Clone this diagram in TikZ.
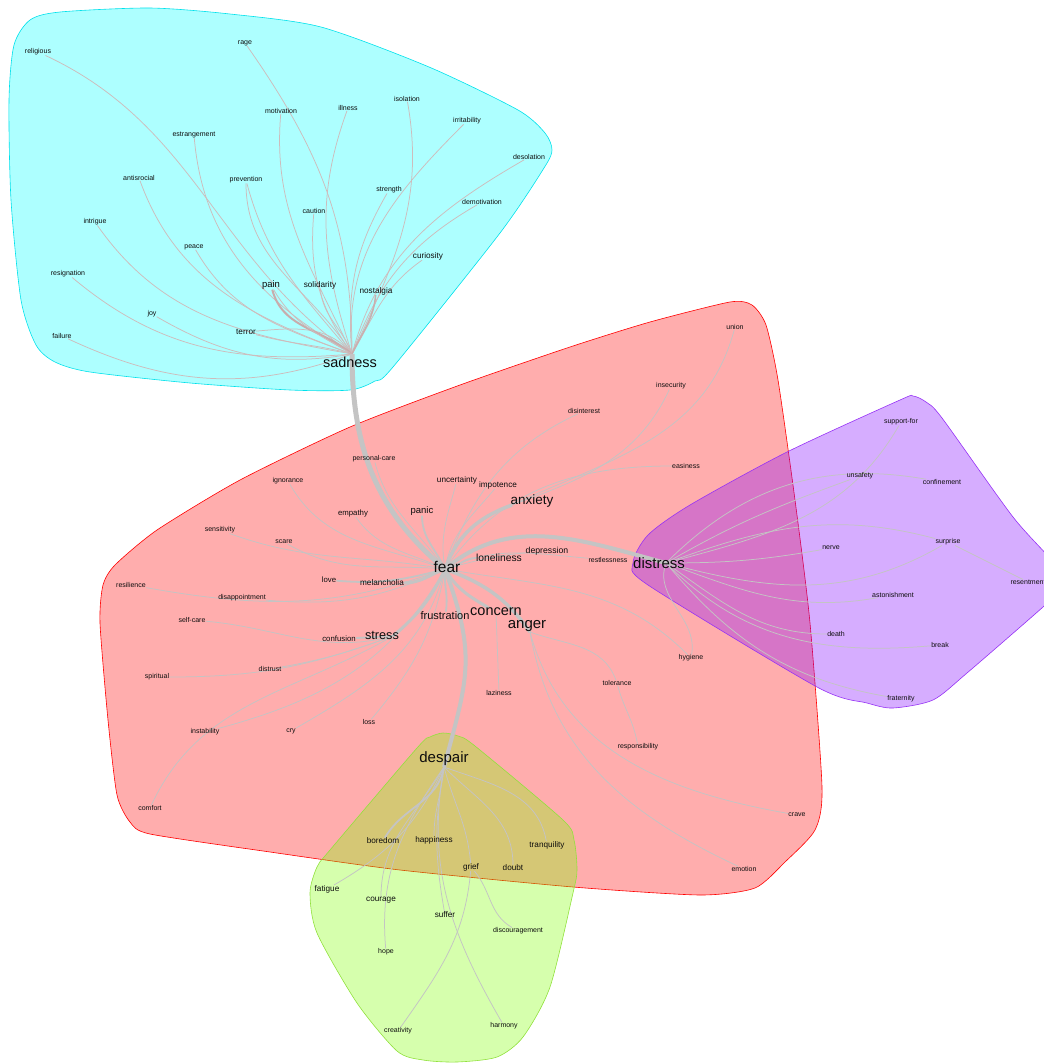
\documentclass[tikz,border=0pt]{standalone}
\usepackage{fontspec}
\setmainfont{Liberation Sans}
\pgfdeclarelayer{hulls}
\pgfdeclarelayer{edges}
\pgfsetlayers{hulls,edges,main}
\definecolor{edgegray}{RGB}{196,196,196}
\definecolor{edgepink}{RGB}{205,188,188}
\definecolor{hcyan}{RGB}{0,255,255}
\definecolor{hred}{RGB}{255,0,0}
\definecolor{hpurple}{RGB}{128,0,255}
\definecolor{hgreen}{RGB}{127,255,0}
\definecolor{bcyan}{RGB}{0,225,235}
\definecolor{bpurple}{RGB}{150,50,245}
\definecolor{bgreen}{RGB}{145,225,60}
\tikzset{
 lbl/.style={inner sep=0pt, text=black!95, font=\fontsize{7}{8}\selectfont},
 sl/.style={lbl, font=\fontsize{8.2}{9}\selectfont},
 ml/.style={lbl, font=\fontsize{10}{11}\selectfont},
 bl/.style={lbl, font=\fontsize{14.5}{16}\selectfont},
 ethin/.style={draw=edgegray, line width=0.75pt},
 ecyan/.style={draw=edgepink, line width=0.75pt},
 emed/.style={draw=edgegray, line width=1.8pt},
 ethick/.style={draw=edgegray, line width=3.5pt},
 hullshape/.style={fill opacity=0.32, line width=0.6pt}
}
\begin{document}
\begin{tikzpicture}[x=1pt,y=1pt]
\useasboundingbox (0,0) rectangle (1044,-1063);
% ---------- labels ----------
% cyan cluster
\node[lbl] (religious) at (38,-52) {religious};
\node[lbl] (rage) at (245,-43) {rage};
\node[lbl] (motivation) at (281,-111) {motivation};
\node[lbl] (illness) at (348,-108) {illness};
\node[lbl] (isolation) at (407,-99) {isolation};
\node[lbl] (irritability) at (467,-121) {irritability};
\node[lbl] (estrangement) at (194,-135) {estrangement};
\node[lbl] (desolation) at (529,-157) {desolation};
\node[lbl] (antisrocial) at (139,-178) {antisrocial};
\node[lbl] (prevention) at (246,-180) {prevention};
\node[lbl] (strength) at (389,-190) {strength};
\node[lbl] (caution) at (314,-211) {caution};
\node[lbl] (demotivation) at (482,-202) {demotivation};
\node[lbl] (intrigue) at (95,-222) {intrigue};
\node[lbl] (peace) at (194,-247) {peace};
\node[sl] (curiosity) at (428,-256) {curiosity};
\node[lbl] (resignation) at (68,-274) {resignation};
\node[lbl, font=\fontsize{9.5}{10}\selectfont] (pain) at (271,-285) {pain};
\node[sl] (solidarity) at (320,-285) {solidarity};
\node[sl] (nostalgia) at (376,-291) {nostalgia};
\node[lbl] (joy) at (152,-314) {joy};
\node[sl] (terror) at (246,-332) {terror};
\node[lbl] (failure) at (62,-336) {failure};
\node[bl] (sadness) at (350,-362) {sadness};
% red cluster
\node[lbl] (union) at (735,-327) {union};
\node[lbl] (insecurity) at (671,-386) {insecurity};
\node[lbl] (disinterest) at (584,-411) {disinterest};
\node[lbl] (easiness) at (686,-466) {easiness};
\node[lbl] (personalcare) at (374,-459) {personal-care};
\node[lbl] (ignorance) at (288,-481) {ignorance};
\node[sl] (uncertainty) at (457,-480) {uncertainty};
\node[sl] (impotence) at (498,-485) {impotence};
\node[bl, font=\fontsize{13.5}{15}\selectfont] (anxiety) at (532,-501) {anxiety};
\node[sl, font=\fontsize{7.8}{9}\selectfont] (empathy) at (353,-513) {empathy};
\node[lbl, font=\fontsize{9.5}{10}\selectfont] (panic) at (422,-511) {panic};
\node[lbl] (sensitivity) at (220,-530) {sensitivity};
\node[lbl] (scare) at (284,-542) {scare};
\node[sl, font=\fontsize{8.7}{9}\selectfont] (depression) at (547,-551) {depression};
\node[lbl, font=\fontsize{10.3}{11}\selectfont] (loneliness) at (499,-558) {loneliness};
\node[bl, font=\fontsize{15.5}{17}\selectfont] (fear) at (447,-567) {fear};
\node[sl, font=\fontsize{7.8}{9}\selectfont] (love) at (329,-580) {love};
\node[sl] (melancholia) at (382,-583) {melancholia};
\node[lbl] (resilience) at (131,-585) {resilience};
\node[lbl] (disappointment) at (242,-598) {disappointment};
\node[lbl] (selfcare) at (192,-620) {self-care};
\node[lbl, font=\fontsize{11}{12}\selectfont] (frustration) at (445,-616) {frustration};
\node[bl] (concern) at (496,-612) {concern};
\node[bl, font=\fontsize{15}{17}\selectfont] (anger) at (527,-626) {anger};
\node[lbl] (restlessness) at (608,-560) {restlessness};
\node[sl, font=\fontsize{7.8}{9}\selectfont] (confusion) at (339,-639) {confusion};
\node[bl, font=\fontsize{12.7}{14}\selectfont] (stress) at (382,-635) {stress};
\node[lbl] (distrust) at (270,-669) {distrust};
\node[lbl] (spiritual) at (157,-677) {spiritual};
\node[lbl] (laziness) at (499,-693) {laziness};
\node[lbl] (loss) at (369,-722) {loss};
\node[lbl] (instability) at (205,-732) {instability};
\node[lbl] (cry) at (291,-731) {cry};
\node[lbl] (comfort) at (150,-808) {comfort};
\node[lbl] (hygiene) at (691,-658) {hygiene};
\node[lbl] (tolerance) at (617,-683) {tolerance};
\node[lbl] (responsibility) at (638,-747) {responsibility};
\node[lbl] (crave) at (797,-815) {crave};
\node[lbl] (emotion) at (744,-869) {emotion};
% purple cluster
\node[bl, font=\fontsize{15}{17}\selectfont] (distress) at (659,-563) {distress};
\node[lbl] (supportfor) at (901,-422) {support-for};
\node[lbl] (unsafety) at (860,-476) {unsafety};
\node[lbl] (confinement) at (942,-482) {confinement};
\node[lbl] (nerve) at (831,-548) {nerve};
\node[lbl] (surprise) at (948,-542) {surprise};
\node[lbl] (resentment) at (1028,-582) {resentment};
\node[lbl] (astonishment) at (893,-595) {astonishment};
\node[lbl] (death) at (836,-634) {death};
\node[lbl] (break) at (940,-645) {break};
\node[lbl] (fraternity) at (901,-699) {fraternity};
% green cluster
\node[bl, font=\fontsize{15}{17}\selectfont] (despair) at (444,-759) {despair};
\node[sl] (boredom) at (383,-841) {boredom};
\node[sl] (happiness) at (434,-840) {happiness};
\node[sl] (tranquility) at (547,-845) {tranquility};
\node[sl] (grief) at (471,-867) {grief};
\node[sl] (doubt) at (513,-868) {doubt};
\node[sl] (fatigue) at (327,-889) {fatigue};
\node[sl] (courage) at (381,-900) {courage};
\node[sl] (suffer) at (445,-915) {suffer};
\node[lbl] (discouragement) at (518,-931) {discouragement};
\node[lbl] (hope) at (386,-952) {hope};
\node[lbl] (creativity) at (398,-1031) {creativity};
\node[lbl] (harmony) at (504,-1026) {harmony};
% hub points
\coordinate (Sh) at (352,-354);
\coordinate (Fh) at (445,-569);
\coordinate (Ah) at (512,-505);
\coordinate (Th) at (393,-636);
\coordinate (Gh) at (530,-632);
\coordinate (Dh) at (666,-563);
\coordinate (Ph) at (444,-767);
% ---------- hulls ----------
\begin{pgfonlayer}{hulls}
\clip (0,0) rectangle (1044,-1063);
\draw[hullshape, draw=bcyan, fill=hcyan] plot[smooth cycle, tension=0.45] coordinates {
 (9,-100) (14,-45) (30,-20) (60,-12) (150,-8) (230,-14) (321,-27) (429,-67) (518,-110)
 (545,-133) (552,-150) (544,-168) (500,-233) (393,-367) (375,-381) (350,-390) (290,-390)
 (190,-383) (90,-372) (55,-362) (36,-345) (21,-300) (11,-200)};
\draw[hullshape, draw=hred, fill=hred] plot[smooth cycle, tension=0.4] coordinates {
 (730,-302) (752,-305) (766,-325) (778,-380) (795,-500) (810,-623) (822,-787) (815,-830)
 (785,-862) (755,-888) (700,-895) (573,-887) (400,-870) (270,-852) (150,-834) (130,-822)
 (117,-795) (108,-720) (100,-623) (103,-585) (115,-565) (157,-530) (240,-480) (350,-427)
 (460,-385) (570,-347) (650,-322)};
\draw[hullshape, draw=bpurple, fill=hpurple] plot[smooth cycle, tension=0.45] coordinates {
 (633,-563) (648,-535) (690,-505) (787,-452) (900,-400) (913,-396) (926,-402) (942,-418)
 (1013,-517) (1060,-570) (1060,-590) (1043,-607) (967,-673) (933,-700) (893,-708)
 (867,-703) (817,-687) (648,-585)};
\draw[hullshape, draw=bgreen, fill=hgreen] plot[smooth cycle, tension=0.45] coordinates {
 (443,-733) (458,-736) (475,-746) (563,-820) (574,-840) (577,-870) (573,-893) (550,-987)
 (523,-1037) (497,-1057) (457,-1062) (423,-1060) (397,-1051) (357,-1003) (317,-933)
 (310,-893) (317,-867) (330,-850) (417,-748) (430,-737)};
\end{pgfonlayer}
% ---------- edges ----------
\begin{pgfonlayer}{edges}
% cyan
\draw[ecyan] (religious) to[out=-25,in=145] (Sh);
\draw[ecyan] (rage) to[out=-55,in=90] (Sh);
\draw[ecyan] (motivation) to[out=-95,in=115] (Sh);
\draw[ecyan] (illness) to[out=-110,in=108] (Sh);
\draw[ecyan] (isolation) to[out=-80,in=65] (Sh);
\draw[ecyan] (irritability) to[out=-135,in=95] (Sh);
\draw[ecyan] (estrangement) to[out=-85,in=150] (Sh);
\draw[ecyan] (desolation) to[out=-150,in=75] (Sh);
\draw[ecyan] (antisrocial) to[out=-70,in=160] (Sh);
\draw[ecyan] (prevention) to[out=-75,in=130] (Sh);
\draw[ecyan] (prevention) to[out=-90,in=122] (Sh);
\draw[ecyan] (strength) to[out=-120,in=95] (Sh);
\draw[ecyan] (caution) to[out=-95,in=125] (Sh);
\draw[ecyan] (demotivation) to[out=-150,in=70] (Sh);
\draw[ecyan] (intrigue) to[out=-55,in=170] (Sh);
\draw[ecyan] (peace) to[out=-60,in=160] (Sh);
\draw[ecyan] (curiosity) to[out=-145,in=60] (Sh);
\draw[ecyan] (resignation) to[out=-40,in=185] (Sh);
\draw[ecyan] (joy) to[out=-30,in=190] (Sh);
\draw[ecyan] (failure) to[out=-25,in=200] (Sh);
\draw[ecyan] (terror) to[out=5,in=130] (Sh);
\draw[ecyan] (terror) to[out=-15,in=165] (Sh);
\draw[ecyan, draw={rgb,255:red,200;green,172;blue,172}, line width=2pt] (pain) to[out=-75,in=140] (Sh);
\draw[ecyan] (pain) to[out=-60,in=150] (Sh);
\draw[ecyan] (solidarity) to[out=-85,in=110] (Sh);
\draw[ecyan, draw={rgb,255:red,200;green,175;blue,175}, line width=1.5pt] (nostalgia) to[out=-95,in=65] (Sh);
% sadness - fear
\draw[ethick, line width=5pt] (Sh) to[out=-90,in=140] (Fh);
% fear
\draw[ethin] (personalcare) to[out=-75,in=125] (Fh);
\draw[ethin] (ignorance) to[out=-60,in=160] (Fh);
\draw[ethin] (empathy) to[out=-55,in=155] (Fh);
\draw[emed] (panic) to[out=-90,in=115] (Fh);
\draw[ethin] (uncertainty) to[out=-105,in=100] (Fh);
\draw[ethin] (impotence) to[out=-130,in=80] (Fh);
\draw[ethick] (Ah) to[out=200,in=70] (Fh);
\draw[ethin] (sensitivity) to[out=-20,in=170] (Fh);
\draw[ethin] (scare) to[out=-30,in=175] (Fh);
\draw[ethin] (depression) to[out=185,in=15] (Fh);
\draw[emed] (Fh) to[out=5,in=180] (loneliness);
\draw[emed] (love) to[out=-5,in=195] (Fh);
\draw[ethick, line width=3pt] (melancholia) to[out=0,in=200] (Fh);
\draw[ethin] (resilience) to[out=-10,in=200] (Fh);
\draw[ethin] (disappointment) to[out=-5,in=205] (Fh);
\draw[emed] (Fh) to[out=-95,in=80] (frustration);
\draw[ethick, line width=3pt] (Fh) to[out=-60,in=150] (concern);
\draw[ethick] (Fh) to[out=-20,in=125] (Gh);
\draw[ethick, line width=3pt] (Fh) to[out=-115,in=40] (Th);
\draw[ethick, line width=4pt] (Fh) to[out=40,in=165] (Dh);
\draw[ethick, line width=4pt] (Fh) to[out=-70,in=75, looseness=1.2] (Ph);
\draw[ethin] (Fh) to[out=25,in=175] (restlessness);
\draw[ethin] (Fh) to[out=-10,in=135] (hygiene);
\draw[ethin] (instability) to[out=15,in=-120] (Fh);
\draw[ethin] (cry) to[out=30,in=-105] (Fh);
\draw[ethin] (loss) to[out=50,in=-100] (Fh);
\draw[ethin] (disinterest) to[out=-155,in=70] (Fh);
\draw[ethin] (easiness) to[out=180,in=55] (Fh);
% anxiety
\draw[ethin] (insecurity) to[out=-115,in=20] (Ah);
\draw[ethin] (union) to[out=-105,in=25] (Ah);
% stress
\draw[emed] (confusion) to (Th);
\draw[ethin] (distrust) to[out=10,in=200] (Th);
\draw[ethin] (spiritual) to[out=0,in=200] (Th);
\draw[ethin] (selfcare) to[out=-5,in=195] (Th);
\draw[ethin] (comfort) to[out=65,in=210] (Th);
% concern / anger
\draw[ethin] (concern) to (laziness);
\draw[ethin] (Gh) to[out=-20,in=110] (tolerance);
\draw[ethin] (tolerance) to[out=-75,in=100] (responsibility);
\draw[ethin] (Gh) to[out=-75,in=170] (crave);
\draw[ethin] (Gh) to[out=-80,in=155] (emotion);
% distress
\draw[ethin] (Dh) to[out=15,in=-120] (supportfor);
\draw[ethin] (Dh) to[out=30,in=-160] (unsafety);
\draw[ethin] (Dh) to[out=45,in=170] (confinement);
\draw[ethin] (Dh) to[out=0,in=190] (nerve);
\draw[ethin] (Dh) to[out=20,in=165] (surprise);
\draw[ethin] (Dh) to[out=-15,in=-150] (surprise);
\draw[ethin] (Dh) to[out=-20,in=190] (astonishment);
\draw[ethin] (Dh) to[out=-35,in=180] (death);
\draw[ethin] (Dh) to[out=-45,in=185] (break);
\draw[ethin] (Dh) to[out=-50,in=170] (fraternity);
\draw[ethin] (Dh) to[out=-110,in=80] (hygiene);
\draw[ethin] (surprise) to (resentment);
% despair
\draw[emed] (Ph) to[out=-100,in=60] (boredom);
\draw[ethin] (Ph) to[out=-95,in=90] (happiness);
\draw[ethin] (Ph) to[out=-20,in=100] (tranquility);
\draw[ethin] (Ph) to[out=-75,in=95] (grief);
\draw[ethin] (Ph) to[out=-45,in=90] (doubt);
\draw[ethin] (Ph) to[out=-115,in=30] (fatigue);
\draw[ethin] (Ph) to[out=-120,in=90] (courage);
\draw[ethin] (Ph) to[out=-125,in=95] (hope);
\draw[ethin] (Ph) to[out=-100,in=100] (suffer);
\draw[ethin] (Ph) to[out=-100,in=120] (harmony);
\draw[ethin] (grief) to[out=-95,in=55] (creativity);
\draw[ethin] (grief) to[out=-50,in=150] (discouragement);
\end{pgfonlayer}
\end{tikzpicture}
\end{document}
